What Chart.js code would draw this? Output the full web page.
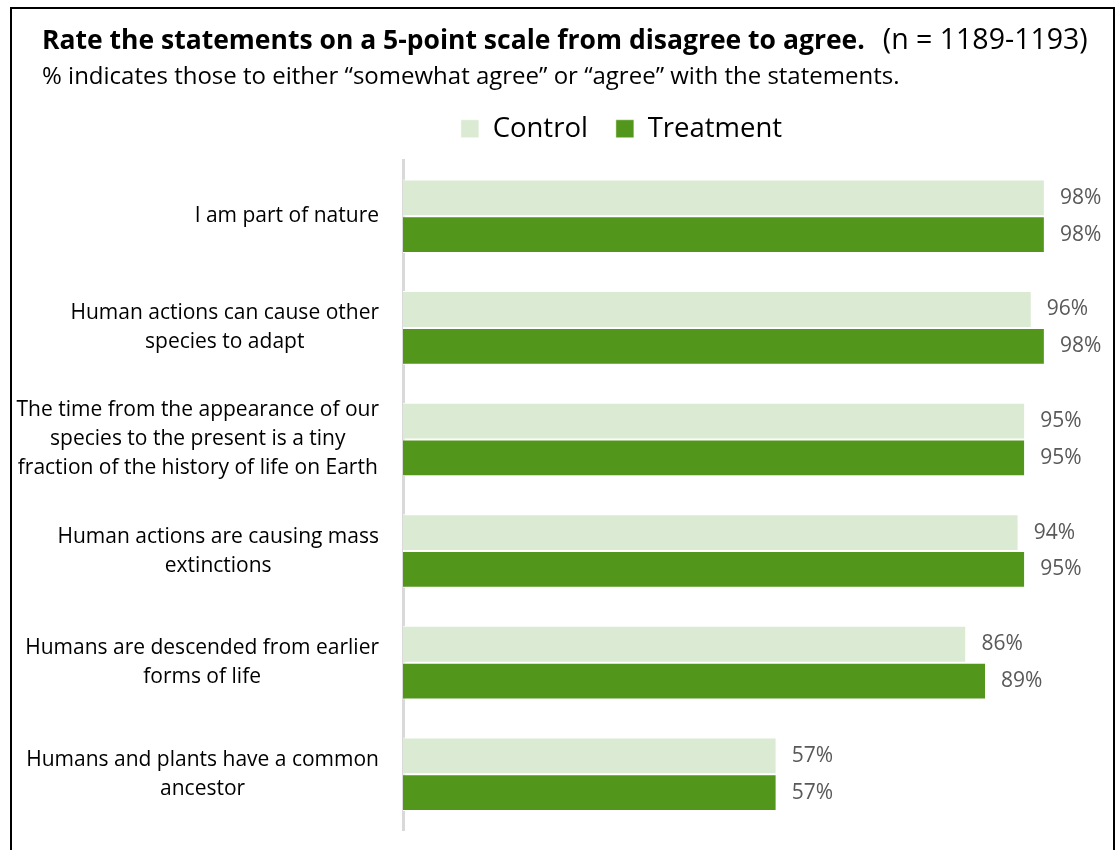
<!DOCTYPE html>
<html>
<head>
<meta charset="utf-8">
<title>Statements agreement</title>
<script src="https://cdn.jsdelivr.net/npm/chart.js@4.4.1/dist/chart.umd.min.js"></script>
<style>
  html, body { margin: 0; padding: 0; background: #fff; overflow: hidden; }
  body { width: 1116px; height: 850px; position: relative; font-family: "Open Sans", sans-serif; }
  #frame { position: absolute; left: 10px; top: 7px; width: 1105px; height: 900px; border: 2px solid #000; box-sizing: border-box; }
  #title { position: absolute; left: 42px; top: 22px; line-height: 32px; color: #000; white-space: nowrap; }
  #title b { font-weight: 700; font-size: 26.5px; }
  #title span { font-size: 28.5px; margin-left: 18px; }
  #subtitle { position: absolute; left: 42px; top: 61px; font-size: 24px; line-height: 28px; color: #000; white-space: nowrap; }
  #wrap { position: absolute; left: 0; top: 0; width: 1116px; height: 850px; }
</style>
</head>
<body>
<div id="wrap"><canvas id="chart" width="1116" height="850"></canvas></div>
<div id="frame"></div>
<div id="title"><b>Rate the statements on a 5-point scale from disagree to agree.</b><span>(n = 1189-1193)</span></div>
<div id="subtitle">% indicates those to either “somewhat agree” or “agree” with the statements.</div>
<script>
'use strict';

// statements (multi-line labels) and % agreeing
const statements = [
  ['I am part of nature'],
  ['Human actions can cause other', 'species to adapt'],
  ['The time from the appearance of our', 'species to the present is a tiny', 'fraction of the history of life on Earth'],
  ['Human actions are causing mass', 'extinctions'],
  ['Humans are descended from earlier', 'forms of life'],
  ['Humans and plants have a common', 'ancestor']
];
const controlValues = [98, 96, 95, 94, 86, 57];
const treatmentValues = [98, 98, 95, 95, 89, 57];

const LABEL_FONT = '21px "Open Sans", sans-serif';

// category labels: lines centred on each other, block right-aligned to the axis
const statementLabels = {
  id: 'statementLabels',
  afterDraw(chart) {
    const { ctx, scales: { y } } = chart;
    const rightEdge = y.right - 24;
    const lineH = 29;
    ctx.save();
    ctx.font = LABEL_FONT;
    ctx.fillStyle = '#000';
    ctx.textAlign = 'center';
    ctx.textBaseline = 'middle';
    y.getLabels().forEach((lines, i) => {
      const cy = y.getPixelForValue(i);
      const maxW = Math.max(...lines.map(l => ctx.measureText(l).width));
      const cx = rightEdge - maxW / 2;
      const top = cy - (lines.length - 1) * lineH / 2;
      lines.forEach((l, k) => ctx.fillText(l, cx, top + k * lineH));
    });
    ctx.restore();
  }
};

// percentage labels just past the end of each bar
const valueLabels = {
  id: 'valueLabels',
  afterDatasetsDraw(chart) {
    const ctx = chart.ctx;
    ctx.save();
    ctx.font = LABEL_FONT;
    ctx.fillStyle = '#595959';
    ctx.textAlign = 'left';
    ctx.textBaseline = 'middle';
    chart.data.datasets.forEach((ds, di) => {
      chart.getDatasetMeta(di).data.forEach((bar, i) => {
        ctx.fillText(ds.data[i] + '%', bar.x + 16, bar.y);
      });
    });
    ctx.restore();
  }
};

// legend sits right of centre with some extra room below it
const legendPlacement = {
  id: 'legendPlacement',
  beforeInit(chart) {
    const fit = chart.legend.fit;
    chart.legend.fit = function () {
      fit.call(this);
      this.height += 8;
    };
  },
  afterLayout(chart) {
    chart.legend.left += 93;
    chart.legend.right += 93;
  }
};

new Chart(document.getElementById('chart'), {
  type: 'bar',
  data: {
    labels: statements,
    datasets: [
      { label: 'Control', data: controlValues, backgroundColor: '#dbead2', borderColor: '#ffffff', borderWidth: { top: 1, bottom: 1 } },
      { label: 'Treatment', data: treatmentValues, backgroundColor: '#52961b', borderColor: '#ffffff', borderWidth: { top: 1, bottom: 1 } }
    ]
  },
  options: {
    indexAxis: 'y',
    responsive: false,
    animation: false,
    layout: { padding: { top: 87, right: 59, bottom: 20, left: 0 } },
    categoryPercentage: 0.66,
    barPercentage: 1.0,
    plugins: {
      legend: {
        position: 'top',
        labels: {
          color: '#000',
          font: { family: '"Open Sans", sans-serif', size: 27.5 },
          boxWidth: 18,
          boxHeight: 18,
          padding: 28
        }
      },
      tooltip: { enabled: false }
    },
    scales: {
      x: { display: false, min: 0, max: 100 },
      y: {
        grid: { display: false },
        border: { color: '#d9d9d9', width: 3 },
        ticks: { display: false },
        afterFit(scale) { scale.width = 403; }
      }
    }
  },
  plugins: [legendPlacement, statementLabels, valueLabels]
});
</script>
</body>
</html>
